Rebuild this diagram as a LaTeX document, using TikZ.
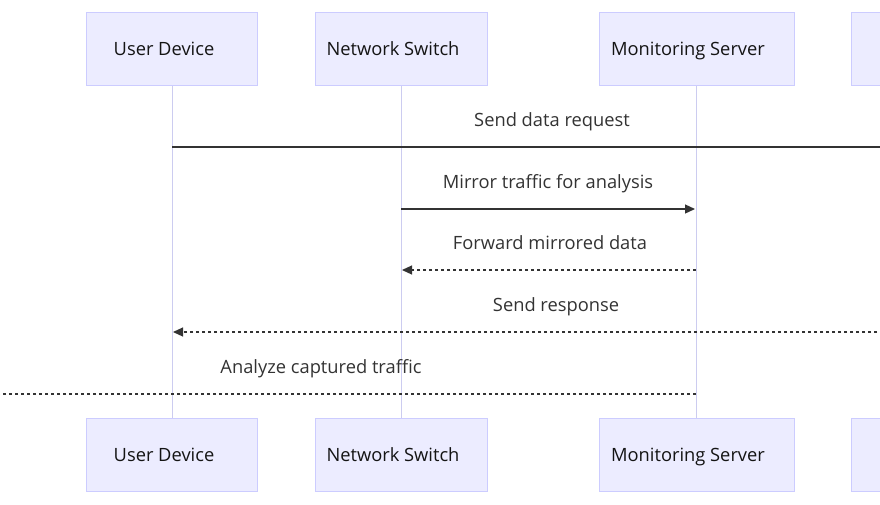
\documentclass[tikz,border=0pt]{standalone}
\usepackage{fontspec}
\setmainfont{Open Sans}
\usetikzlibrary{arrows.meta}
\begin{document}
\begin{tikzpicture}[x=1pt,y=-1pt,
  box/.style={draw={rgb,255:red,204;green,204;blue,255},fill={rgb,255:red,236;green,236;blue,255},line width=0.8pt,minimum height=73pt,inner sep=0pt},
  txt/.style={font=\fontsize{18.3}{22}\selectfont,text={rgb,255:red,20;green,20;blue,20},text height=13pt,text depth=4pt,inner sep=0pt},
  life/.style={draw={rgb,255:red,204;green,204;blue,240},line width=1pt},
  msg/.style={line width=1.2pt,draw={rgb,255:red,51;green,51;blue,51}},
  tip/.style={-{Triangle[length=10pt,width=9pt]}},
  dsh/.style={dash pattern=on 3pt off 3pt},
  lab/.style={font=\fontsize{18.3}{22}\selectfont,text={rgb,255:red,51;green,51;blue,51},text height=13pt,text depth=4pt,inner sep=0pt}]
\useasboundingbox (0,0) rectangle (880,504);
\clip (0,0) rectangle (880,504);
\fill[white] (0,0) rectangle (880,504);
% lifelines
\draw[life] (172,85) -- (172,418);
\draw[life] (401,85) -- (401,418);
\draw[life] (696,85) -- (696,418);
\draw[life] (937,85) -- (937,418);
% boxes
\node[box,minimum width=171pt] (u1) at (172,48.5) {};
\node[box,minimum width=172pt] (n1) at (401,48.5) {};
\node[box,minimum width=195pt] (m1) at (696.5,48.5) {};
\node[box,minimum width=172pt] (x1) at (937,48.5) {};
\node[box,minimum width=171pt] (u2) at (172,454.5) {};
\node[box,minimum width=172pt] (n2) at (401,454.5) {};
\node[box,minimum width=195pt] (m2) at (696.5,454.5) {};
\node[box,minimum width=172pt] (x2) at (937,454.5) {};
\node[txt] (u1t) at (164,50.5) {User Device};
\node[txt] (n1t) at (393,50.5) {Network Switch};
\node[txt] (m1t) at (688,50.5) {Monitoring Server};
\node[txt] (u2t) at (164,456.5) {User Device};
\node[txt] (n2t) at (393,456.5) {Network Switch};
\node[txt] (m2t) at (688,456.5) {Monitoring Server};
% messages
\coordinate (r1) at (937,147); \coordinate (r2) at (937,332); \coordinate (l5) at (-100,394);
\draw[msg,tip] (172,147) -- (r1);
\node[lab] (t1) at (552,122) {Send data request};
\draw[msg,tip] (401,209) -- (695,209);
\node[lab] (t2) at (548,184) {Mirror traffic for analysis};
\draw[msg,tip,dsh] (696,270) -- (402,270);
\node[lab] (t3) at (550,245) {Forward mirrored data};
\draw[msg,tip,dsh] (r2) -- (173,332);
\node[lab] (t4) at (556,307) {Send response};
\draw[msg,tip,dsh] (696,394) -- (l5);
\node[lab] (t5) at (321,369) {Analyze captured traffic};
\end{tikzpicture}
\end{document}
